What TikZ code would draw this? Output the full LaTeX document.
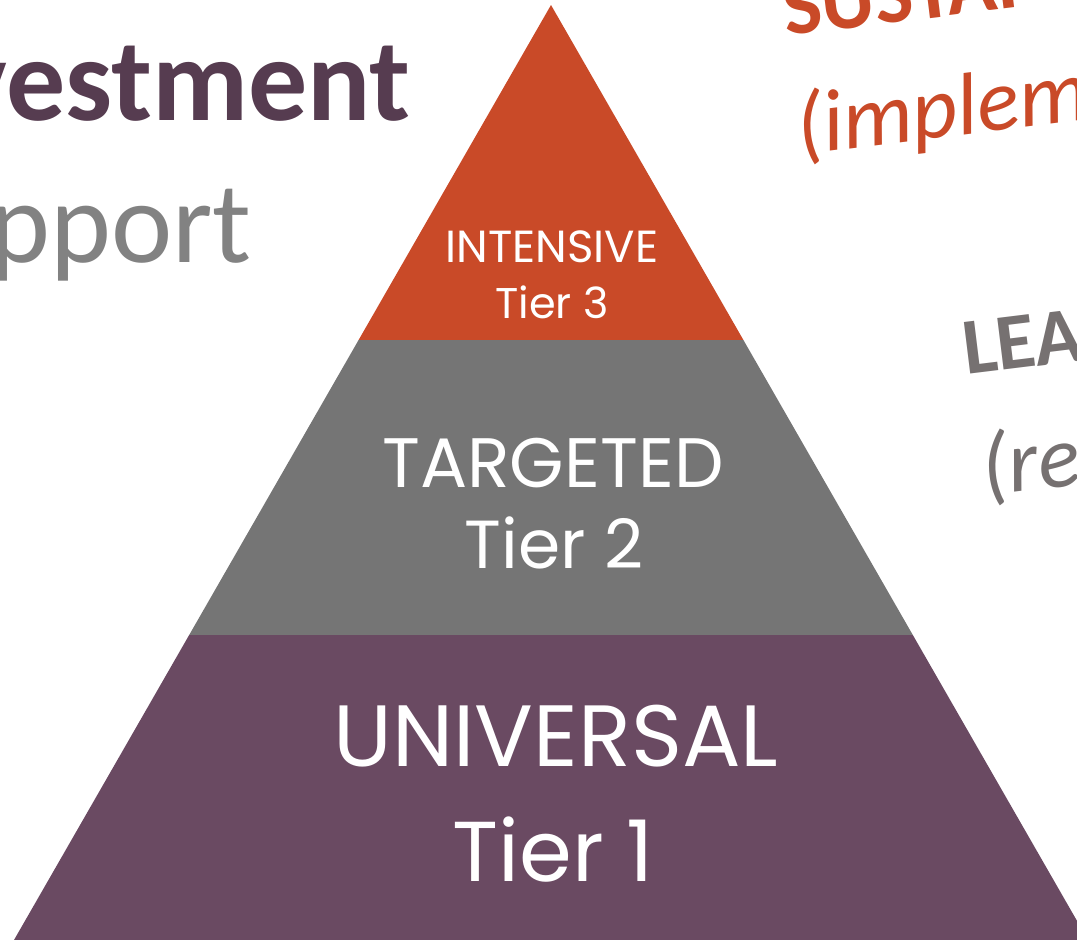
\documentclass[tikz,border=0pt]{standalone}
\usepackage{fontspec}
\usepackage{tikz}
\usetikzlibrary{calc}
\newfontfamily\tierfont{Poppins}
\newfontfamily\slidefont{Carlito}

\definecolor{tierorange}{RGB}{201,74,40}
\definecolor{tiergray}{RGB}{117,117,117}
\definecolor{tierplum}{RGB}{106,74,98}
\definecolor{headplum}{RGB}{86,60,80}
\definecolor{headgray}{RGB}{130,130,130}
\definecolor{notegray}{RGB}{118,113,113}

\tikzset{
	tierlabel/.style={anchor=base,inner sep=0pt,text=white},
	sidelabel/.style={inner sep=0pt},
}

\begin{document}
\begin{tikzpicture}[x=1pt,y=1pt,yscale=-1,xscale=1]
		\useasboundingbox (0,0) rectangle (1077,940);
		\clip (0,0) rectangle (1077,940);

		% corners of the pyramid
		\coordinate (apex) at (551,5);
		\coordinate (bl) at (14,940);
		\coordinate (br) at (1088,940);
		\coordinate (l3) at ($(apex)!0.3583!(bl)$);
		\coordinate (r3) at ($(apex)!0.3583!(br)$);
		\coordinate (l2) at ($(apex)!0.6738!(bl)$);
		\coordinate (r2) at ($(apex)!0.6738!(br)$);

		% three bands
		\fill [tierorange] (apex) -- (r3) -- (l3) -- cycle;
		\fill [tiergray] (l3) -- (r3) -- (r2) -- (l2) -- cycle;
		\fill [tierplum] (l2) -- (r2) -- (br) -- (bl) -- cycle;

		% band labels
		\node (t3a) [tierlabel,font=\tierfont\fontsize{45}{45}\selectfont] at (552,262) {INTENSIVE};
		\node (t3b) [tierlabel,font=\tierfont\fontsize{43}{43}\selectfont] at (552,318) {Tier 3};
		\node (t2a) [tierlabel,font=\tierfont\fontsize{70}{70}\selectfont] at (553,487) {TARGETED};
		\node (t2b) [tierlabel,font=\tierfont\fontsize{68}{68}\selectfont] at (554,568) {Tier 2};
		\node (t1a) [tierlabel,font=\tierfont\fontsize{87}{87}\selectfont] at (556,766) {UNIVERSAL};
		\node (t1b) [tierlabel,font=\tierfont\fontsize{85}{85}\selectfont] at (553,881) {Tier 1};

		% heading on the left
		\node (head1) [sidelabel,anchor=base east,text=headplum,font=\slidefont\bfseries\fontsize{118}{118}\selectfont] at (411,120) {vestment};
		\node (head2) [sidelabel,anchor=base east,text=headgray,font=\slidefont\fontsize{116}{116}\selectfont] at (252,262) {pport};

		% notes on the right
		\node (sus) [sidelabel,anchor=base west,rotate=7,text=tierorange,font=\slidefont\bfseries\fontsize{82}{82}\selectfont] at (786,36) {SUSTAI};
		\node (susn) [sidelabel,anchor=base west,rotate=7,text=tierorange,font=\slidefont\itshape\fontsize{88}{88}\selectfont] at (800,155) {(implem};
		\node (lea) [sidelabel,anchor=base west,rotate=7,text=notegray,font=\slidefont\bfseries\fontsize{80}{80}\selectfont] at (966,375) {LEA};
		\node (lean) [sidelabel,anchor=base west,rotate=7,text=notegray,font=\slidefont\itshape\fontsize{88}{88}\selectfont] at (985,496) {(re};

\end{tikzpicture}
\end{document}
